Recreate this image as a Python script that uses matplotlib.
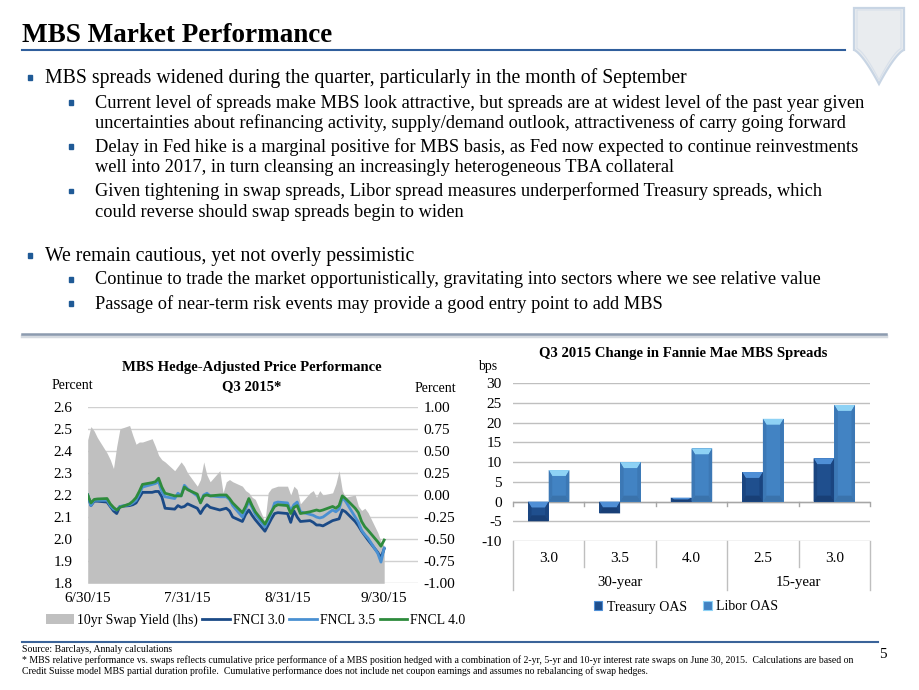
import numpy as np
import pandas as pd
import matplotlib
matplotlib.use("Agg")
import matplotlib.pyplot as plt
from matplotlib.patches import Rectangle, Polygon, Patch
from matplotlib.lines import Line2D
import matplotlib.transforms as mtransforms

plt.rcParams['font.family'] = ['Liberation Serif', 'DejaVu Serif']
plt.rcParams['axes.unicode_minus'] = False

# ---------------- data ----------------
# left chart: business days of Q3 2015
dates = pd.bdate_range('2015-06-30', '2015-09-30')
swap_10y = [2.45, 2.51, 2.49, 2.46,
            2.39, 2.36, 2.32, 2.42, 2.50,
            2.515, 2.47, 2.43, 2.44, 2.44,
            2.455, 2.42, 2.38, 2.36, 2.35,
            2.31, 2.33, 2.35, 2.33, 2.30,
            2.24, 2.27, 2.35, 2.29, 2.26,
            2.31, 2.21, 2.26, 2.27, 2.26,
            2.24, 2.22, 2.21, 2.19, 2.18,
            2.08, 2.21, 2.23, 2.235, 2.24,
            2.24, 2.20, 2.24, 2.225, 2.16,
            2.21, 2.22, 2.19, 2.22, 2.20,
            2.21, 2.25, 2.31, 2.22, 2.19,
            2.20, 2.15, 2.13, 2.14, 2.12,
            2.03, 1.99, 1.97]
fnci_30 = [0.00, -0.12, -0.07, -0.07,
           -0.08, -0.13, -0.18, -0.21, -0.13,
           -0.12, -0.11, -0.09, -0.03, 0.03,
           0.03, 0.04, 0.04, -0.02, -0.15,
           -0.16, -0.12, -0.14, -0.13, -0.10,
           -0.15, -0.21, -0.15, -0.11, -0.14,
           -0.17, -0.16, -0.15, -0.18, -0.25,
           -0.30, -0.22, -0.17, -0.23, -0.28,
           -0.41, -0.34, -0.27, -0.21, -0.20,
           -0.21, -0.31, -0.18, -0.25, -0.30,
           -0.29, -0.31, -0.34, -0.34, -0.35,
           -0.29, -0.28, -0.27, -0.17, -0.19,
           -0.30, -0.35, -0.41, -0.46, -0.51,
           -0.65, -0.71, -0.61]
fncl_35 = [0.00, -0.12, -0.06, -0.06,
           -0.06, -0.12, -0.16, -0.17, -0.13,
           -0.11, -0.09, -0.06, 0.01, 0.09,
           0.12, 0.13, 0.15, 0.04, -0.02,
           -0.04, 0.02, -0.01, 0.11, 0.07,
           -0.01, -0.08, 0.00, 0.02, -0.01,
           -0.02, -0.02, -0.02, -0.05, -0.12,
           -0.25, -0.16, -0.07, -0.14, -0.22,
           -0.36, -0.29, -0.20, -0.09, -0.08,
           -0.09, -0.18, -0.11, -0.08, -0.19,
           -0.22, -0.23, -0.25, -0.26, -0.25,
           -0.17, -0.19, -0.16, -0.03, -0.07,
           -0.25, -0.31, -0.40, -0.45, -0.49,
           -0.66, -0.76, -0.60]
fncl_40 = [0.00, -0.09, -0.05, -0.045,
           -0.04, -0.10, -0.14, -0.17, -0.14,
           -0.10, -0.07, -0.03, 0.04, 0.12,
           0.14, 0.15, 0.19, 0.09, 0.02,
           -0.01, -0.01, -0.01, 0.09, 0.06,
           0.01, -0.09, -0.01, 0.00, -0.01,
           0.00, 0.00, 0.00, -0.04, -0.09,
           -0.20, -0.13, -0.04, -0.12, -0.19,
           -0.33, -0.26, -0.19, -0.13, -0.11,
           -0.12, -0.21, -0.14, -0.12, -0.21,
           -0.19, -0.18, -0.17, -0.18, -0.17,
           -0.13, -0.15, -0.12, -0.01, -0.04,
           -0.15, -0.20, -0.30, -0.36, -0.40,
           -0.53, -0.58, -0.51]
date_ticks = ['2015-06-30', '2015-07-31', '2015-08-31', '2015-09-30']
date_labels = ['6/30/15', '7/31/15', '8/31/15', '9/30/15']

# right chart
coupons = ['3.0', '3.5', '4.0', '2.5', '3.0']
groups = ['30-year', '15-year']
group_sizes = [3, 2]
treasury_oas = [-5, -3, 1, 7.5, 11]
libor_oas = [8, 10, 13.5, 21, 24.5]

# slide text
title = 'MBS Market Performance'
bullets = [
    (1, ['MBS spreads widened during the quarter, particularly in the month of September']),
    (2, ['Current level of spreads make MBS look attractive, but spreads are at widest level of the past year given',
         'uncertainties about refinancing activity, supply/demand outlook, attractiveness of carry going forward']),
    (2, ['Delay in Fed hike is a marginal positive for MBS basis, as Fed now expected to continue reinvestments',
         'well into 2017, in turn cleansing an increasingly heterogeneous TBA collateral']),
    (2, ['Given tightening in swap spreads, Libor spread measures underperformed Treasury spreads, which',
         'could reverse should swap spreads begin to widen']),
    (1, ['We remain cautious, yet not overly pessimistic']),
    (2, ['Continue to trade the market opportunistically, gravitating into sectors where we see relative value']),
    (2, ['Passage of near-term risk events may provide a good entry point to add MBS']),
]
bullet_y = [78, 103, 147, 191.5, 256, 280, 304]
footnotes = [
    'Source: Barclays, Annaly calculations',
    '* MBS relative performance vs. swaps reflects cumulative price performance of a MBS position hedged with a combination of 2-yr, 5-yr and 10-yr interest rate swaps on June 30, 2015.  Calculations are based on',
    'Credit Suisse model MBS partial duration profile.  Cumulative performance does not include net coupon earnings and assumes no rebalancing of swap hedges.',
]

W, H = 920, 690
def fx(px):
    return px / W
def fy(py):
    return 1 - py / H

fig = plt.figure(figsize=(9.2, 6.9), dpi=100)
fig.patch.set_facecolor('white')

# ---------------- header ----------------
fig.text(fx(22), fy(35), title, fontsize=19.5, fontweight='bold', va='center', ha='left')
fig.add_artist(Line2D([fx(22), fx(845)], [fy(50), fy(50)], color='#2F5E9C', lw=1.5))

# shield logo (decorative outline only)
t = np.linspace(0, 1, 30)
curve_l = [(854 + 25 * s ** 1.3, 50 + 34 * s ** 1.8) for s in t]
curve_r = [(904 - 25 * s ** 1.3, 50 + 34 * s ** 1.8) for s in t][::-1]
shield = [(854, 8)] + curve_l + curve_r + [(904, 8)]
fig.add_artist(Polygon([(fx(a), fy(b)) for a, b in shield], closed=True, transform=fig.transFigure,
                       facecolor='#E9ECEF', edgecolor='#C8D5E4', lw=1.6))
inner = [(879 + (a - 879) * 0.88, 10 + (b - 8) * 0.92) for a, b in shield]
fig.add_artist(Polygon([(fx(a), fy(b)) for a, b in inner], closed=True, transform=fig.transFigure,
                       facecolor='none', edgecolor='#D8E0EA', lw=0.8))

# bullets
for (lvl, lines), y in zip(bullets, bullet_y):
    bx = 30 if lvl == 1 else 71
    tx = 45 if lvl == 1 else 95
    fs = 14.2 if lvl == 1 else 13.2
    fig.add_artist(Rectangle((fx(bx - 2.3), fy(y + 1.8)), 4.6 / W, 4.6 / H,
                             transform=fig.transFigure, color='#1F5A96'))
    for i, line in enumerate(lines):
        fig.text(fx(tx), fy(y + i * 20.5), line, fontsize=fs, va='center', ha='left')

# separators
fig.add_artist(Line2D([fx(22), fx(886)], [fy(335.5), fy(335.5)], color='#D5DAE0', lw=2.5))
fig.add_artist(Line2D([fx(22), fx(886)], [fy(334), fy(334)], color='#8C9BAF', lw=1.8))
fig.add_artist(Line2D([fx(22), fx(878)], [fy(642), fy(642)], color='#3A6399', lw=1.5))

# footnotes
for i, line in enumerate(footnotes):
    fig.text(fx(22), fy(649 + i * 11), line, fontsize=7.0, va='center', ha='left')
fig.text(fx(883), fy(655), '5', fontsize=11, va='center', ha='center')

# ---------------- left chart ----------------
axl = fig.add_axes([fx(87.7), fy(583.3), (417.7 - 87.7) / W, (583.3 - 406.7) / H])
axl.fill_between(dates, 1.8, swap_10y, color='#C0C0C0', lw=0, zorder=2)
axl.set_ylim(1.8, 2.6)
axl.set_yticks(np.arange(1.8, 2.61, 0.1))
axl.set_yticklabels([f'{v:.1f}' for v in np.arange(1.8, 2.61, 0.1)])
x0 = pd.Timestamp('2015-06-30')
axl.set_xlim(x0, x0 + pd.Timedelta(days=102.4))
axl.set_xticks(pd.to_datetime(date_ticks))
axl.set_xticklabels(date_labels)
axl.grid(axis='y', color='#D0D0D0', lw=1.0, zorder=0)
axl.set_axisbelow(True)
for s in axl.spines.values():
    s.set_visible(False)
axl.tick_params(length=0, labelsize=11)
axl.tick_params(axis='y', pad=11)
axl.tick_params(axis='x', pad=6)

axr = axl.twinx()
axr.plot(dates, fnci_30, color='#1B4A86', lw=2.0, zorder=3)
axr.plot(dates, fncl_35, color='#4A90D2', lw=2.0, zorder=4)
axr.plot(dates, fncl_40, color='#2E8B3C', lw=2.0, zorder=5)
axr.set_ylim(-1.0, 1.0)
axr.set_yticks(np.arange(-1.0, 1.01, 0.25))
axr.set_yticklabels([f'{v:.2f}' for v in np.arange(-1.0, 1.01, 0.25)])
for s in axr.spines.values():
    s.set_visible(False)
axr.tick_params(length=0, labelsize=11, pad=4)

fig.text(fx(252), fy(368), 'MBS Hedge-Adjusted Price Performance', fontsize=10.6, fontweight='bold',
         ha='center', va='center')
fig.text(fx(252), fy(387), 'Q3 2015*', fontsize=10.6, fontweight='bold', ha='center', va='center')
fig.text(fx(72), fy(386), 'Percent', fontsize=10, ha='center', va='center')
fig.text(fx(435), fy(388), 'Percent', fontsize=10, ha='center', va='center')

handles = [Patch(facecolor='#C0C0C0', edgecolor='none'),
           Line2D([], [], color='#1B4A86', lw=2.0),
           Line2D([], [], color='#4A90D2', lw=2.0),
           Line2D([], [], color='#2E8B3C', lw=2.0)]
fig.legend(handles, ['10yr Swap Yield (lhs)', 'FNCI 3.0', 'FNCL 3.5', 'FNCL 4.0'],
           loc='center', bbox_to_anchor=(fx(256), fy(620)), ncol=4, frameon=False,
           fontsize=9.9, handlelength=2.0, handletextpad=0.25, columnspacing=0.3,
           borderaxespad=0, borderpad=0)

# ---------------- right chart ----------------
axb = fig.add_axes([fx(513), fy(541), 357 / W, (541 - 383.3) / H])
axb.set_xlim(-0.5, len(coupons) - 0.5)
axb.set_ylim(-10, 30)
axb.set_yticks(range(-10, 31, 5))
axb.grid(axis='y', color='#BFBFBF', lw=1.0, zorder=0)
axb.set_axisbelow(True)
for s in axb.spines.values():
    s.set_visible(False)
axb.axhline(0, color='#A6A6A6', lw=1.0, zorder=1)
axb.set_xticks([])
axb.tick_params(axis='y', length=0, labelsize=11, pad=8)

bw = 0.29
xs = np.arange(len(coupons))

def bevel_bar(ax, xc, val, face, cap, side, low):
    ax.bar(xc, val, bw, color=face, zorder=3, lw=0)
    xa, xb = xc - bw / 2, xc + bw / 2
    hi, lo = max(val, 0), min(val, 0)
    dx = bw * 0.17
    dy = min(1.5, (hi - lo) / 2)
    ax.add_patch(Polygon([(xa, hi), (xb, hi), (xb - dx, hi - dy), (xa + dx, hi - dy)],
                         closed=True, color=cap, lw=0, zorder=4))
    ax.add_patch(Polygon([(xa, hi), (xa + dx, hi - dy), (xa + dx, lo + dy), (xa, lo)],
                         closed=True, color=side, lw=0, zorder=4))
    ax.add_patch(Polygon([(xb, hi), (xb - dx, hi - dy), (xb - dx, lo + dy), (xb, lo)],
                         closed=True, color=side, lw=0, zorder=4))
    ax.add_patch(Polygon([(xa, lo), (xa + dx, lo + dy), (xb - dx, lo + dy), (xb, lo)],
                         closed=True, color=low, lw=0, zorder=4))

for x, tv, lv in zip(xs, treasury_oas, libor_oas):
    bevel_bar(axb, x - 0.145, tv, '#1F4F8E', '#4F8FD6', '#1A4580', '#183F76')
    bevel_bar(axb, x + 0.145, lv, '#4283C3', '#8ED2F5', '#3C78B5', '#3A73AC')

# multi-level category axis
trans = mtransforms.blended_transform_factory(axb.transData, axb.transAxes)
for x, c in zip(xs, coupons):
    axb.text(x, -0.108, c, transform=trans, ha='center', va='center', fontsize=11)
edges = np.cumsum([0] + group_sizes) - 0.5
start = 0
for g, n in zip(groups, group_sizes):
    axb.text(start + (n - 1) / 2, -0.266, g, transform=trans, ha='center', va='center', fontsize=10.7)
    start += n
for b in np.arange(-0.5, len(coupons), 1.0):
    bottom = -0.31 if b in edges else -0.165
    axb.plot([b, b], [0, bottom], transform=trans, color='#BFBFBF', lw=1.0, clip_on=False)
    axb.plot([b, b], [10 / 40, 10 / 40 - 0.025], transform=trans, color='#A6A6A6', lw=1.0, clip_on=False)

fig.text(fx(683), fy(354), 'Q3 2015 Change in Fannie Mae MBS Spreads', fontsize=10.6, fontweight='bold',
         ha='center', va='center')
fig.text(fx(488), fy(366), 'bps', fontsize=10, ha='center', va='center')

leg_handles = [Patch(facecolor='#1F4F8E', edgecolor='#4F8FD6', lw=0.8),
               Patch(facecolor='#4283C3', edgecolor='#8ED2F5', lw=0.8)]
fig.legend(leg_handles, ['Treasury OAS', 'Libor OAS'], loc='center',
           bbox_to_anchor=(fx(686), fy(607)), ncol=2, frameon=False, fontsize=10,
           handlelength=0.6, handleheight=0.6, handletextpad=0.3, columnspacing=1.2,
           borderaxespad=0, borderpad=0)

fig.savefig('out.png', dpi=100)
